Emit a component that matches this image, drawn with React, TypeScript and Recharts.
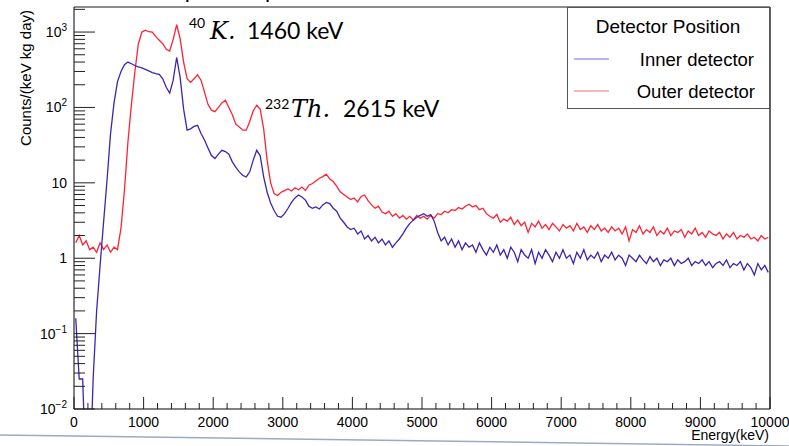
import { LineChart, Line, XAxis, YAxis, ReferenceLine } from "recharts";

const BIN_WIDTH = 50; // keV per bin
const E_MAX = 10000;

// Outer detector, counts/(keV kg day), one value per 50 keV bin (0 .. 9950)
const outerCounts = [
  1.6, 2.0, 1.5, 1.7, 1.3, 1.4, 1.2, 1.6, 1.3, 1.5,
  1.2, 1.4, 1.3, 2.5, 8, 35, 110, 300, 700, 1000,
  1060, 1010, 1000, 870, 780, 700, 590, 560, 800, 1250,
  820, 400, 240, 215, 240, 270, 230, 160, 110, 92,
  88, 100, 115, 125, 100, 80, 60, 55, 50, 50,
  65, 90, 107, 95, 52, 20, 10, 7.2, 6.8, 7.5,
  7.9, 8.3, 7.8, 8.6, 8.1, 8.8, 7.9, 9.3, 9.8, 10.6,
  11.5, 12.1, 13.0, 11.2, 10.4, 9.0, 7.6, 7.0, 6.5, 6.0,
  6.3, 5.6, 6.6, 6.9, 5.8, 5.1, 4.6, 4.9, 4.1, 3.9,
  4.2, 3.6, 3.9, 3.4, 3.7, 3.3, 3.6, 3.2, 3.7, 3.4,
  3.6, 3.3, 3.7, 3.4, 3.9, 3.8, 4.2, 4.0, 4.4, 4.3,
  4.7, 4.5, 4.9, 5.2, 4.8, 5.0, 4.4, 4.6, 3.9, 3.6,
  3.4, 3.8, 3.0, 3.3, 3.1, 3.5, 2.8, 3.2, 2.7, 3.0,
  2.2, 2.9, 2.6, 3.1, 2.5, 2.8, 2.4, 2.9, 2.6, 2.3,
  2.8, 2.5, 2.7, 2.3, 2.9, 2.4, 2.6, 2.2, 2.7, 2.4,
  2.8, 2.3, 2.5, 2.2, 2.6, 2.3, 2.5, 2.1, 2.6, 1.7,
  2.4, 2.2, 2.7, 2.1, 2.4, 2.2, 2.6, 2.0, 2.3, 2.1,
  2.5, 2.0, 2.3, 2.2, 2.4, 1.9, 2.3, 2.1, 2.5, 2.0,
  2.2, 1.9, 2.3, 2.1, 2.0, 2.2, 1.8, 2.1, 1.9, 2.2,
  1.8, 2.0, 1.9, 2.1, 1.8, 1.9, 1.7, 2.0, 1.8, 1.9,
];

// Inner detector (0.001 = empty bin, drawn down through the axis like ROOT does)
const innerCounts = [
  0.16, 0.025, 0.025, 0.001, 0.001, 0.025, 0.2, 0.8, 3, 11,
  45, 115, 220, 300, 370, 400, 380, 360, 345, 335,
  320, 305, 290, 280, 275, 240, 185, 155, 230, 460,
  250, 95, 50, 52, 56, 58, 45, 37, 29, 23,
  21, 24, 27, 26, 24, 19, 16, 14, 12.5, 12,
  14, 20, 27, 23, 12, 7.5, 5.4, 4.3, 3.6, 3.5,
  3.9, 4.6, 5.5, 6.3, 6.9, 6.5, 5.9, 4.9, 4.6, 4.8,
  4.5, 5.1, 5.5, 5.3, 4.6, 4.2, 3.4, 3.0, 2.6, 2.4,
  2.5, 2.1, 2.3, 1.8, 2.0, 1.7, 1.9, 1.6, 1.8, 1.5,
  1.7, 1.4, 1.6, 1.8, 2.1, 2.5, 2.9, 3.2, 3.5, 3.7,
  3.9, 3.6, 3.8, 3.1, 2.2, 1.7, 1.9, 1.5, 1.8, 1.4,
  1.7, 1.3, 1.6, 1.4, 1.5, 1.2, 1.6, 1.3, 1.1, 1.4,
  1.2, 1.5, 1.1, 1.3, 1.0, 1.4, 1.2, 0.9, 1.3, 1.1,
  1.0, 1.3, 0.85, 1.2, 1.0, 1.3, 1.1, 0.9, 1.2, 1.0,
  1.3, 1.0, 1.1, 0.85, 1.2, 1.0, 1.3, 0.95, 1.1, 1.0,
  1.2, 0.9, 1.1, 1.0, 1.2, 0.95, 1.1, 1.0, 0.8, 1.1,
  1.0, 0.9, 1.1, 0.95, 0.85, 1.05, 0.9, 1.0, 0.8, 0.95,
  0.9, 1.0, 0.8, 0.95, 0.85, 0.9, 1.0, 0.8, 0.9, 0.85,
  0.95, 0.8, 0.9, 0.75, 0.85, 0.9, 0.8, 0.95, 0.75, 0.85,
  0.8, 0.9, 0.7, 0.85, 0.75, 0.6, 0.85, 0.7, 0.8, 0.65,
];

const seriesNames = ["Inner detector", "Outer detector"];
const legendTitle = "Detector Position";
const yTitle = "Counts/(keV kg day)";
const xTitle = "Energy(keV)";

const INNER_COLOR = "#3a26b0";
const OUTER_COLOR = "#ff2233";

// one point per bin, at the bin centre
const data = outerCounts.map((v, i) => ({
  energy: i * BIN_WIDTH + BIN_WIDTH / 2,
  outer: v,
  inner: innerCounts[i],
}));

const xTicks: number[] = [];
for (let e = 0; e <= E_MAX; e += 200) xTicks.push(e);

const yTicks: number[] = [];
for (let k = -2; k <= 3; k++) {
  for (let m = 1; m <= 9; m++) {
    const v = m * Math.pow(10, k);
    if (v < 2150) yTicks.push(Number(v.toPrecision(3)));
  }
}

const PLOT_LEFT = 74;
const PLOT_BOTTOM = 409;
const FONT = "'Liberation Sans', Arial, sans-serif";

const YTick = (props: any) => {
  const { y, payload } = props;
  const v = payload.value;
  const exp = Math.round(Math.log10(v));
  const major = Math.abs(v - Math.pow(10, exp)) < 1e-9 * Math.pow(10, exp);
  let label: any = null;
  if (major) {
    if (exp === 0) label = "1";
    else if (exp === 1) label = "10";
    else
      label = (
        <>
          10<tspan fontSize={10} dy={-6}>{exp < 0 ? `\u2212${-exp}` : exp}</tspan>
        </>
      );
  }
  return (
    <g>
      <line x1={PLOT_LEFT} x2={PLOT_LEFT + (major ? 21 : 11)} y1={y} y2={y} stroke="#222" strokeWidth={1} />
      {major && (
        <text x={67} y={y + 5} textAnchor="end" fontFamily={FONT} fontSize={14} fill="#000">
          {label}
        </text>
      )}
    </g>
  );
};

const XTick = (props: any) => {
  const { x, payload } = props;
  const v = payload.value;
  const major = v % 1000 === 0;
  return (
    <g>
      <line x1={x} x2={x} y1={PLOT_BOTTOM} y2={PLOT_BOTTOM - (major ? 12 : 6)} stroke="#222" strokeWidth={1} />
      {major && (
        <text x={x} y={427} textAnchor="middle" fontFamily={FONT} fontSize={14} fill="#000">
          {v}
        </text>
      )}
    </g>
  );
};

export default function App() {
  return (
    <div style={{ position: "absolute", left: 0, top: 0, width: 789, height: 446, background: "#fff", overflow: "hidden" }}>
      <LineChart width={789} height={446} data={data} margin={{ top: 7, right: 19, bottom: 0, left: 0 }}>
        <XAxis
          dataKey="energy"
          type="number"
          domain={[0, E_MAX]}
          ticks={xTicks}
          interval={0}
          height={37}
          tickLine={false}
          axisLine={{ stroke: "#000" }}
          tick={(p: any) => <XTick {...p} />}
        />
        <YAxis
          type="number"
          scale="log"
          domain={[0.01, 2150]}
          allowDataOverflow
          ticks={yTicks}
          interval={0}
          width={74}
          tickLine={false}
          axisLine={{ stroke: "#000" }}
          tick={(p: any) => <YTick {...p} />}
        />
        <ReferenceLine y={2150} stroke="#666" strokeWidth={1.5} />
        <ReferenceLine x={E_MAX} stroke="#666" strokeWidth={2} />
        <Line
          type="linear"
          dataKey="outer"
          name={seriesNames[1]}
          stroke={OUTER_COLOR}
          strokeWidth={1.3}
          dot={false}
          isAnimationActive={false}
        />
        <Line
          type="linear"
          dataKey="inner"
          name={seriesNames[0]}
          stroke={INNER_COLOR}
          strokeWidth={1.3}
          dot={false}
          isAnimationActive={false}
        />
      </LineChart>

      <svg width={789} height={446} style={{ position: "absolute", left: 0, top: 0, pointerEvents: "none" }}>
        {/* title, cut off by the top of the frame */}
        <text x={112} y={-1} fontFamily={FONT} fontWeight="bold" fontSize={15} fill="#000">
          Detector spectra comparison
        </text>

        {/* axis titles */}
        <text
          transform="translate(31,10) rotate(-90)"
          textAnchor="end"
          fontFamily={FONT}
          fontSize={15}
          fill="#000"
        >
          {yTitle}
        </text>
        <text x={769} y={440} textAnchor="end" fontFamily={FONT} fontSize={14} fill="#000">
          {xTitle}
        </text>

        {/* peak annotations */}
        <text y={39} fill="#000">
          <tspan x={189} dy={-11} fontFamily="Lato, sans-serif" fontSize={14}>40</tspan>
          <tspan x={210} dy={11} fontFamily="'DejaVu Serif', serif" fontStyle="italic" fontSize={24}>K.</tspan>
          <tspan x={247} fontFamily="Lato, sans-serif" fontSize={23}>1460 keV</tspan>
        </text>
        <text y={117} fill="#000">
          <tspan x={265} dy={-8} fontFamily="Lato, sans-serif" fontSize={14}>232</tspan>
          <tspan x={291} dy={8} fontFamily="'DejaVu Serif', serif" fontStyle="italic" fontSize={24}>Th.</tspan>
          <tspan x={343} fontFamily="Lato, sans-serif" fontSize={23}>2615 keV</tspan>
        </text>

        {/* legend */}
        <rect x={567.5} y={7.5} width={202} height={101} fill="#fff" stroke="#555" strokeWidth={1} />
        <text x={668} y={33} textAnchor="middle" fontFamily={FONT} fontSize={19} fill="#000">
          {legendTitle}
        </text>
        <line x1={574} x2={609} y1={59} y2={59} stroke="#6c6ce6" strokeWidth={1.2} />
        <text x={754} y={66} textAnchor="end" fontFamily={FONT} fontSize={18.5} fill="#000">
          {seriesNames[0]}
        </text>
        <line x1={574} x2={609} y1={91} y2={91} stroke="#ff6677" strokeWidth={1.2} />
        <text x={755} y={98} textAnchor="end" fontFamily={FONT} fontSize={18.5} fill="#000">
          {seriesNames[1]}
        </text>

        {/* slide edge at the bottom */}
        <line x1={0} y1={435} x2={789} y2={446} stroke="#9aaac4" strokeWidth={1.5} />
      </svg>
    </div>
  );
}
